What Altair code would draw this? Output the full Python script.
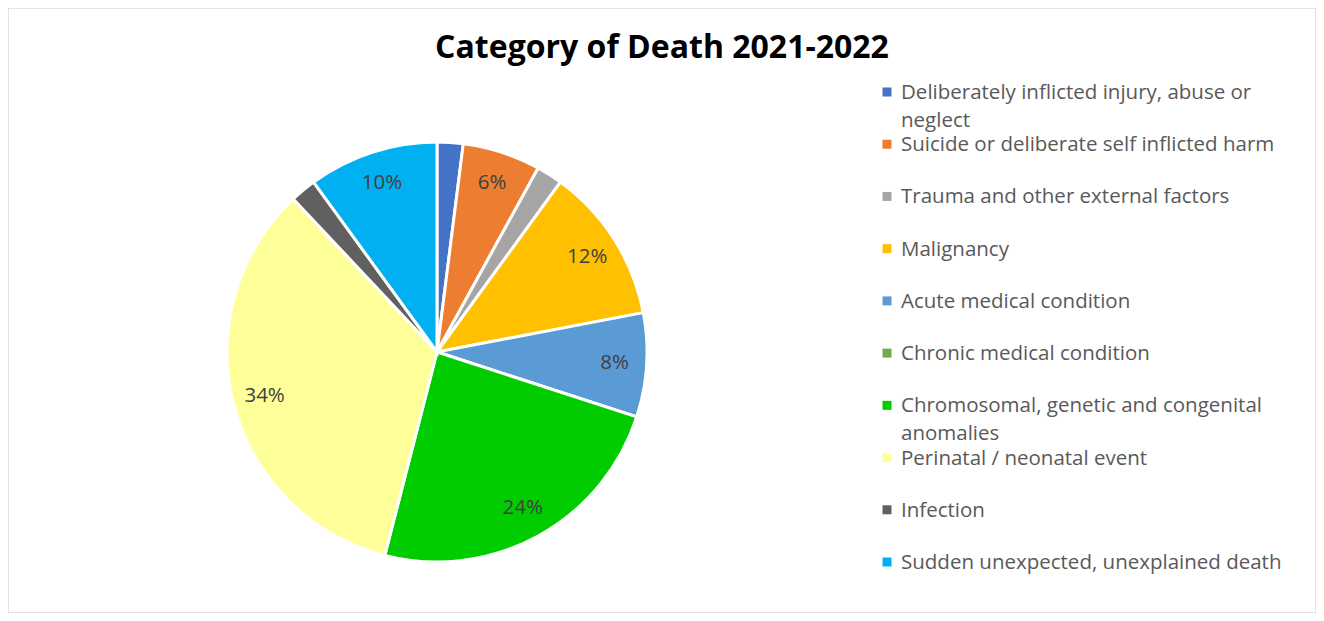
import altair as alt
import pandas as pd

categories = [
    "Deliberately inflicted injury, abuse or neglect",
    "Suicide or deliberate self inflicted harm",
    "Trauma and other external factors",
    "Malignancy",
    "Acute medical condition",
    "Chronic medical condition",
    "Chromosomal, genetic and congenital anomalies",
    "Perinatal / neonatal event",
    "Infection",
    "Sudden unexpected, unexplained death",
]
legend_text = [
    "Deliberately inflicted injury, abuse or\nneglect",
    "Suicide or deliberate self inflicted harm",
    "Trauma and other external factors",
    "Malignancy",
    "Acute medical condition",
    "Chronic medical condition",
    "Chromosomal, genetic and congenital\nanomalies",
    "Perinatal / neonatal event",
    "Infection",
    "Sudden unexpected, unexplained death",
]
values = [2, 6, 2, 12, 8, 0, 24, 34, 2, 10]
labels = ["", "6%", "", "12%", "8%", "", "24%", "34%", "", "10%"]
colors = ["#4472C4", "#ED7D31", "#A5A5A5", "#FFC000", "#5B9BD5",
          "#70AD47", "#00CC00", "#FFFF99", "#606060", "#00B0F0"]

df = pd.DataFrame({
    "category": categories,
    "legend": legend_text,
    "value": values,
    "label": labels,
    "order": list(range(len(categories))),
})

color = alt.Color("category:N", scale=alt.Scale(domain=categories, range=colors), legend=None)
cx, cy = 429, 344

pie = alt.Chart(df).mark_arc(outerRadius=210, stroke="white", strokeWidth=3).encode(
    theta=alt.Theta("value:Q", stack=True),
    order=alt.Order("order:Q"),
    color=color,
    x=alt.value(cx), y=alt.value(cy),
)

text = alt.Chart(df).mark_text(radius=178, font="Open Sans", fontSize=20.5, color="#404040").encode(
    theta=alt.Theta("value:Q", stack=True),
    order=alt.Order("order:Q"),
    text="label:N",
    x=alt.value(cx), y=alt.value(cy),
)

ypos = alt.Y("category:N", sort=categories,
             scale=alt.Scale(type="point", range=[84, 554], padding=0), axis=None)

leg_sym = alt.Chart(df).mark_square(size=81, opacity=1).encode(
    y=ypos, x=alt.value(879), color=color,
)
leg_txt = alt.Chart(df).mark_text(align="left", baseline="alphabetic", dy=7, lineBreak="\n",
                                  lineHeight=28, font="Open Sans", fontSize=20.5,
                                  color="#595959").encode(
    y=ypos, x=alt.value(893), text="legend:N",
)

chart = alt.layer(pie, text, leg_sym, leg_txt).properties(
    width=1308, height=605,
    padding=0,
    autosize=alt.AutoSizeParams(type="none"),
    title=alt.TitleParams("Category of Death 2021-2022", font="Open Sans", fontSize=32,
                          fontWeight="bold", color="#000000", anchor="middle", offset=-57),
).configure_view(stroke="#D9D9D9", strokeWidth=1.5)

chart.save("out.html", embed_options={"renderer": "svg", "actions": False})
